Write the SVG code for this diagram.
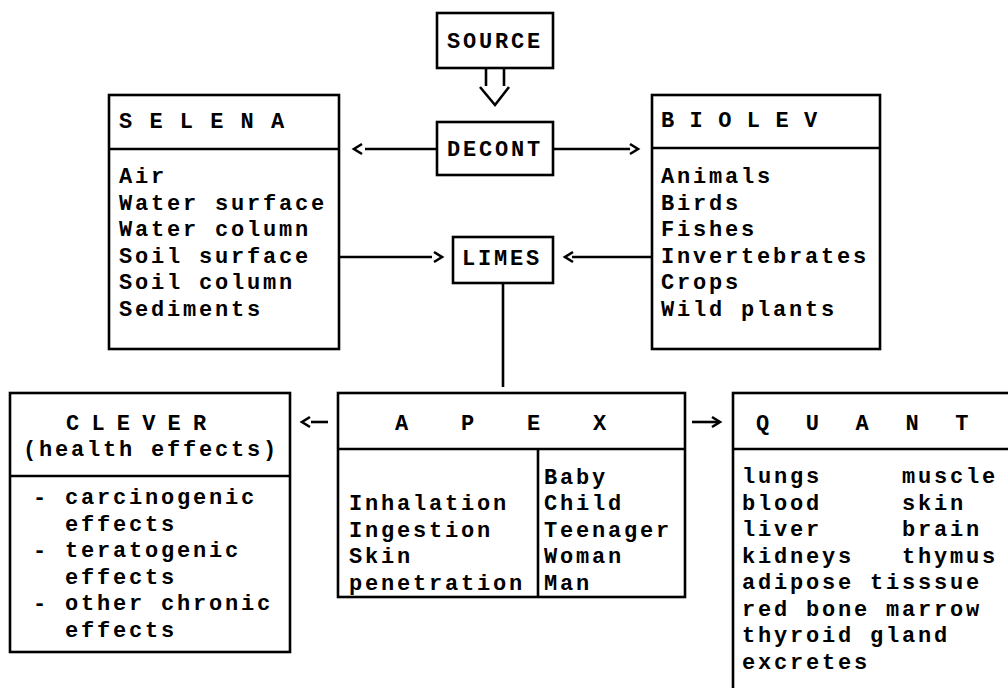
<svg xmlns="http://www.w3.org/2000/svg" width="1008" height="688" viewBox="0 0 1008 688">
<style>
  .box{fill:none;stroke:#000;stroke-width:2.6}
  .ln{fill:none;stroke:#000;stroke-width:2.6;stroke-linecap:butt;stroke-linejoin:miter}
  text{font-family:"Liberation Mono","Courier New",monospace;font-weight:bold;font-size:22px;fill:#000;letter-spacing:2.8px}
</style>
<rect width="1008" height="688" fill="#fff"/>

<g id="connectors">
  <!-- SOURCE to DECONT double arrow -->
  <line class="ln" x1="486" y1="68" x2="486" y2="86"/>
  <line class="ln" x1="504" y1="68" x2="504" y2="86"/>
  <polyline class="ln" points="480,87 495,105 509,87"/>
  <!-- DECONT to SELENA -->
  <line class="ln" x1="365" y1="149" x2="437" y2="149"/>
  <polyline class="ln" points="362,144 354,149 362,154"/>
  <!-- DECONT to BIOLEV -->
  <line class="ln" x1="553" y1="149" x2="630" y2="149"/>
  <polyline class="ln" points="630,144 638,149 630,154"/>
  <!-- SELENA to LIMES -->
  <line class="ln" x1="339" y1="257" x2="432" y2="257"/>
  <polyline class="ln" points="434,252 442,257 434,262"/>
  <!-- BIOLEV to LIMES -->
  <line class="ln" x1="572" y1="257" x2="652" y2="257"/>
  <polyline class="ln" points="573,252 565,257 573,262"/>
  <!-- LIMES to APEX -->
  <line class="ln" x1="503" y1="283" x2="503" y2="387"/>
  <!-- APEX to CLEVER -->
  <line class="ln" x1="311" y1="422" x2="328" y2="422"/>
  <polyline class="ln" points="310,417 302,422 310,427"/>
  <!-- APEX to QUANT -->
  <line class="ln" x1="692" y1="422" x2="718" y2="422"/>
  <polyline class="ln" points="712,417 720,422 712,427"/>
</g>

<g id="source">
  <rect class="box" x="437" y="13" width="116" height="55"/>
  <text x="447" y="48">SOURCE</text>
</g>

<g id="decont">
  <rect class="box" x="437" y="122" width="116" height="53"/>
  <text x="447" y="156">DECONT</text>
</g>

<g id="selena">
  <rect class="box" x="109" y="95" width="230" height="254"/>
  <line class="ln" x1="109" y1="149" x2="339" y2="149"/>
  <text x="119" y="128" style="letter-spacing:2px">S E L E N A</text>
  <text x="119" y="183">Air</text>
  <text x="119" y="209.5">Water surface</text>
  <text x="119" y="236">Water column</text>
  <text x="119" y="262.5">Soil surface</text>
  <text x="119" y="289">Soil column</text>
  <text x="119" y="315.5">Sediments</text>
</g>

<g id="biolev">
  <rect class="box" x="652" y="95" width="228" height="254"/>
  <line class="ln" x1="652" y1="148" x2="880" y2="148"/>
  <text x="661" y="127" style="letter-spacing:1.1px">B I O L E V</text>
  <text x="661" y="183">Animals</text>
  <text x="661" y="209.5">Birds</text>
  <text x="661" y="236">Fishes</text>
  <text x="661" y="262.5">Invertebrates</text>
  <text x="661" y="289">Crops</text>
  <text x="661" y="315.5">Wild plants</text>
</g>

<g id="limes">
  <rect class="box" x="453" y="237" width="100" height="46"/>
  <text x="462" y="265">LIMES</text>
</g>

<g id="clever">
  <rect class="box" x="10" y="393" width="280" height="259"/>
  <line class="ln" x1="10" y1="476" x2="290" y2="476"/>
  <text x="66" y="430" style="letter-spacing:-0.5px">C L E V E R</text>
  <text x="23" y="456">(health effects)</text>
  <text x="33" y="504">- carcinogenic</text>
  <text x="65" y="530.5">effects</text>
  <text x="33" y="557">- teratogenic</text>
  <text x="65" y="583.5">effects</text>
  <text x="33" y="610">- other chronic</text>
  <text x="65" y="636.5">effects</text>
</g>

<g id="apex">
  <rect class="box" x="338" y="393" width="347" height="204"/>
  <line class="ln" x1="338" y1="449" x2="685" y2="449"/>
  <line class="ln" x1="538" y1="449" x2="538" y2="597"/>
  <text x="395" y="430" style="letter-spacing:19.8px">A P E X</text>
  <text x="349" y="510">Inhalation</text>
  <text x="349" y="536.5">Ingestion</text>
  <text x="349" y="563">Skin</text>
  <text x="349" y="589.5">penetration</text>
  <text x="544" y="483.5">Baby</text>
  <text x="544" y="510">Child</text>
  <text x="544" y="536.5">Teenager</text>
  <text x="544" y="563">Woman</text>
  <text x="544" y="589.5">Man</text>
</g>

<g id="quant">
  <rect class="box" x="733" y="393" width="290" height="310"/>
  <line class="ln" x1="733" y1="449" x2="1010" y2="449"/>
  <text x="756" y="430" style="letter-spacing:11.7px">Q U A N T</text>
  <text x="742" y="483">lungs</text>
  <text x="742" y="509.5">blood</text>
  <text x="742" y="536">liver</text>
  <text x="742" y="562.5">kidneys</text>
  <text x="902" y="483">muscle</text>
  <text x="902" y="509.5">skin</text>
  <text x="902" y="536">brain</text>
  <text x="902" y="562.5">thymus</text>
  <text x="742" y="589">adipose tisssue</text>
  <text x="742" y="615.5">red bone marrow</text>
  <text x="742" y="642">thyroid gland</text>
  <text x="742" y="668.5">excretes</text>
</g>
</svg>
